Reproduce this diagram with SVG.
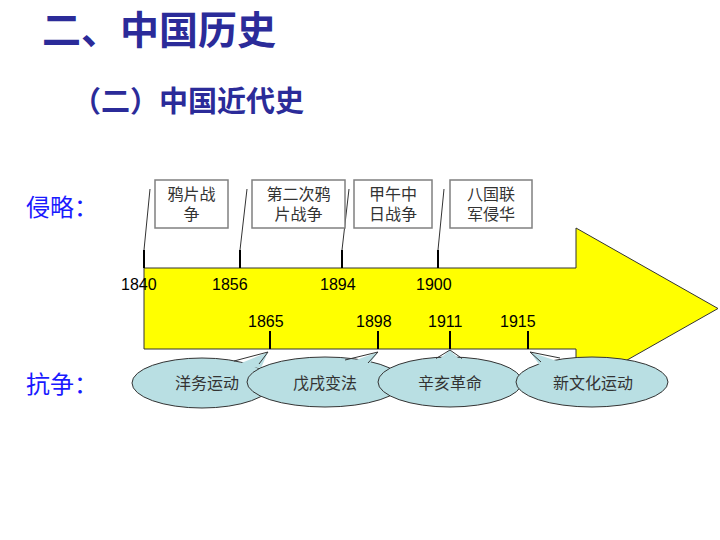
<svg xmlns="http://www.w3.org/2000/svg" width="720" height="540" viewBox="0 0 720 540">
<style>
.t{font-family:"Liberation Sans","Noto Sans CJK SC",sans-serif}
.h{fill:#2B2B99;font-weight:bold}
.s{fill:#1a1aff;font-size:24px}
.yr{font-size:16px;fill:#000}
.bx{fill:#fff;stroke:#808080;stroke-width:1.5}
.bt{font-size:16px;fill:#333;text-anchor:middle}
.el{fill:#B9DFE3;stroke:#333;stroke-width:1}
.pf{fill:#B9DFE3}
.ps{fill:none;stroke:#333;stroke-width:1}
.et{font-size:16px;fill:#333;text-anchor:middle}
.tk{stroke:#000;stroke-width:2}
.ln{stroke:#333;stroke-width:1}
</style>
<rect width="720" height="540" fill="#fff"/>
<text class="t h" x="42" y="44" font-size="39">二、中国历史</text>
<text class="t h" x="72" y="112" font-size="29">（二）中国近代史</text>
<text class="t s" x="26" y="216">侵略：</text>
<text class="t s" x="26" y="393">抗争：</text>
<g id="arrow"><path d="M144,268 H576 V228 L718,308.5 L576,389 V349 H144 Z" fill="#FFFF00" stroke="#333" stroke-width="1"/></g>
<g id="connectors">
<line class="tk" x1="144" y1="250" x2="144" y2="268"/><line class="ln" x1="144" y1="250" x2="150" y2="189"/>
<line class="tk" x1="240" y1="250" x2="240" y2="268"/><line class="ln" x1="240" y1="250" x2="247" y2="189"/>
<line class="tk" x1="342" y1="250" x2="342" y2="268"/><line class="ln" x1="342" y1="250" x2="349" y2="189"/>
<line class="tk" x1="438" y1="250" x2="438" y2="268"/><line class="ln" x1="438" y1="250" x2="444" y2="189"/>
<line class="tk" x1="270" y1="331" x2="270" y2="349"/>
<line class="tk" x1="378" y1="331" x2="378" y2="349"/>
<line class="tk" x1="450" y1="331" x2="450" y2="349"/>
<line class="tk" x1="528" y1="331" x2="528" y2="349"/>
</g>
<g class="t">
<text class="yr" x="121" y="290">1840</text>
<text class="yr" x="212" y="290">1856</text>
<text class="yr" x="320" y="290">1894</text>
<text class="yr" x="416" y="290">1900</text>
<text class="yr" x="248" y="327">1865</text>
<text class="yr" x="356" y="327">1898</text>
<text class="yr" x="428" y="327">1911</text>
<text class="yr" x="500" y="327">1915</text>
</g>
<g id="n1"><rect class="bx" x="155" y="180" width="73" height="48"/><text class="t bt" x="191.5" y="200">鸦片战</text><text class="t bt" x="191.5" y="220">争</text></g>
<g id="n2"><rect class="bx" x="252" y="180" width="93" height="48"/><text class="t bt" x="298.5" y="200">第二次鸦</text><text class="t bt" x="298.5" y="220">片战争</text></g>
<g id="n3"><rect class="bx" x="354" y="180" width="78" height="48"/><text class="t bt" x="393" y="200">甲午中</text><text class="t bt" x="393" y="220">日战争</text></g>
<g id="n4"><rect class="bx" x="450" y="180" width="82" height="48"/><text class="t bt" x="491" y="200">八国联</text><text class="t bt" x="491" y="220">军侵华</text></g>
<g id="c1"><ellipse class="el" cx="202" cy="383" rx="70" ry="25"/><path class="pf" d="M234,366 L268,352 L261,368 Z"/><path class="ps" d="M234,361 L268,352 L259,364"/><text class="t et" x="207" y="389">洋务运动</text></g>
<g id="c2"><ellipse class="el" cx="325" cy="382" rx="78" ry="25"/><path class="pf" d="M345,364 L378,352 L368,366 Z"/><path class="ps" d="M345,360 L378,352 L368,363"/><text class="t et" x="325" y="389">戊戌变法</text></g>
<g id="c3"><ellipse class="el" cx="450" cy="382" rx="72" ry="25"/><path class="pf" d="M436,362 L450,350 L462,362 Z"/><path class="ps" d="M436,358.5 L450,350 L462,358.5"/><text class="t et" x="450" y="389">辛亥革命</text></g>
<g id="c4"><ellipse class="el" cx="592" cy="382" rx="76" ry="25"/><path class="pf" d="M560,362 L530,352 L541,367 Z"/><path class="ps" d="M560,358 L530,352 L541,362"/><text class="t et" x="593" y="389">新文化运动</text></g>
</svg>
